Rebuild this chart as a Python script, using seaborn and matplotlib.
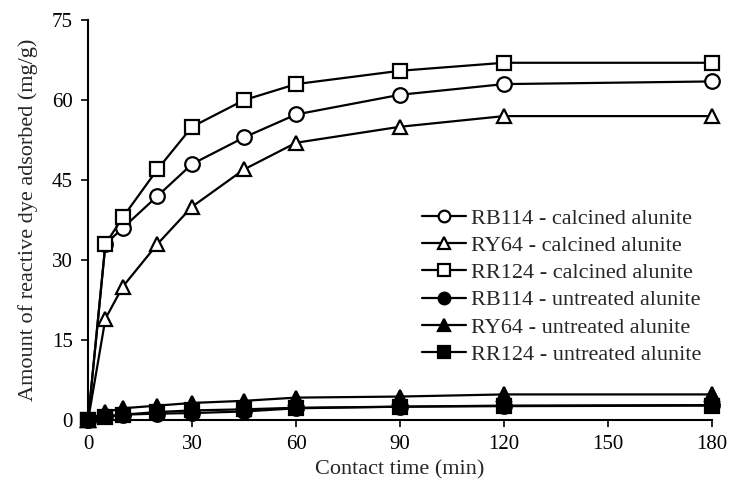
import matplotlib
matplotlib.use("Agg")
import matplotlib.pyplot as plt
import seaborn as sns
import pandas as pd

# Contact time (min)
time_min = [0, 5, 10, 20, 30, 45, 60, 90, 120, 180]

# Amount of reactive dye adsorbed (mg/g)
rb114_calcined = [0, 33, 36, 42, 48, 53, 57.3, 61, 63, 63.5]
ry64_calcined = [0, 19, 25, 33, 40, 47, 52, 55, 57, 57]
rr124_calcined = [0, 33, 38, 47, 55, 60, 63, 65.5, 67, 67]
rb114_untreated = [0, 0.7, 1.0, 1.2, 1.3, 1.6, 2.2, 2.5, 2.7, 2.8]
ry64_untreated = [0, 1.5, 2.2, 2.7, 3.2, 3.6, 4.2, 4.4, 4.8, 4.8]
rr124_untreated = [0, 0.5, 1.0, 1.5, 1.8, 2.0, 2.3, 2.5, 2.6, 2.7]

series_labels = [
    "RB114 - calcined alunite",
    "RY64 - calcined alunite",
    "RR124 - calcined alunite",
    "RB114 - untreated alunite",
    "RY64 - untreated alunite",
    "RR124 - untreated alunite",
]
series_values = [rb114_calcined, ry64_calcined, rr124_calcined,
                 rb114_untreated, ry64_untreated, rr124_untreated]
series_markers = ["o", "^", "s", "o", "^", "s"]
series_faces = ["white", "white", "white", "black", "black", "black"]

x_ticks = [0, 30, 60, 90, 120, 150, 180]
y_ticks = [0, 15, 30, 45, 60, 75]

sns.set_theme(style="ticks")
plt.rcParams["font.family"] = ["Liberation Serif", "DejaVu Serif"]

fig = plt.figure(figsize=(7.34, 4.98), dpi=100)
ax = fig.add_axes([0.12, 0.1566, 0.850, 0.803])

for label, vals, mk, face in zip(series_labels, series_values, series_markers, series_faces):
    df = pd.DataFrame({"t": time_min, "q": vals})
    sns.lineplot(data=df, x="t", y="q", ax=ax, color="black", linewidth=1.6,
                 marker=mk, markersize=10.5 if mk != "s" else 10,
                 markerfacecolor=face, markeredgecolor="black",
                 markeredgewidth=1.6, label=label, zorder=3, clip_on=False)

ax.set_xlim(0, 180)
ax.set_ylim(0, 75)
ax.set_xticks(x_ticks)
ax.set_yticks(y_ticks)
ax.tick_params(axis="both", direction="out", length=5, width=1.2,
               labelsize=15, colors="black", pad=6)
for side in ("top", "right"):
    ax.spines[side].set_visible(False)
for side in ("left", "bottom"):
    ax.spines[side].set_linewidth(1.5)
    ax.spines[side].set_color("black")

ax.set_xlabel("Contact time (min)", fontsize=16, labelpad=4)
ax.set_ylabel("Amount of reactive dye adsorbed (mg/g)", fontsize=16, labelpad=10)

leg = ax.legend(loc="upper left", bbox_to_anchor=(0.535, 0.53), frameon=False,
                fontsize=16, handlelength=2.0, handletextpad=0.2,
                labelspacing=0.3, borderaxespad=0, borderpad=0,
                markerscale=0.8)

fig.savefig("out.png", dpi=100)
